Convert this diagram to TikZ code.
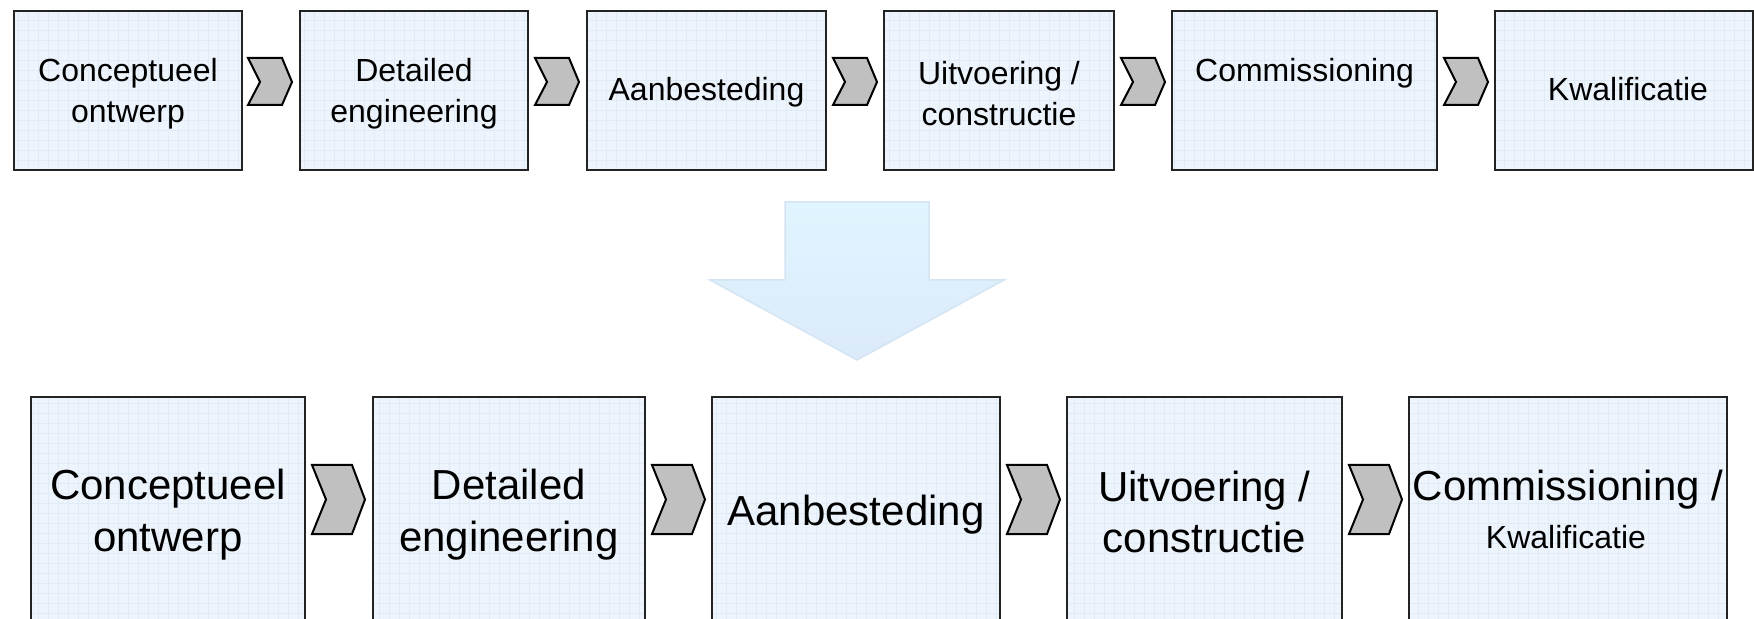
\documentclass[tikz,border=0pt]{standalone}
\usepackage{fontspec}
\setmainfont{Liberation Sans}
\usetikzlibrary{calc}
\definecolor{boxfill}{RGB}{238,244,251}
\definecolor{gridcol}{RGB}{224,235,248}
\definecolor{boxline}{RGB}{35,35,35}
\definecolor{chevfill}{RGB}{192,192,192}
\definecolor{arrtop}{RGB}{224,245,255}
\definecolor{arrbot}{RGB}{220,234,249}
\definecolor{arrline}{RGB}{212,228,242}
\begin{document}
\begin{tikzpicture}[x=0.5pt,y=-0.5pt,
  procbox/.style={draw=boxline, line width=1pt, fill=boxfill, inner sep=0pt,
    path picture={\draw[gridcol, line width=0.35pt] (path picture bounding box.north west) grid[step=5pt] (path picture bounding box.south east);}},
  toptext/.style={font=\fontsize{16}{20.5}\selectfont, align=center, inner sep=0pt},
  bottext/.style={font=\fontsize{21}{25.8}\selectfont, align=center, inner sep=0pt},
  smalltext/.style={font=\fontsize{16}{18.5}\selectfont, align=center, inner sep=0pt},
  chev/.style={draw=black, line width=1pt, fill=chevfill, line join=miter}]
\useasboundingbox (0,0) rectangle (1754,619);
\clip (0,0) rectangle (1754,619);
% top row boxes
\node[procbox, minimum width=114pt,   minimum height=79.5pt] (T1) at (128,90.5) {};
\node[procbox, minimum width=114pt,   minimum height=79.5pt] (T2) at (414,90.5) {};
\node[procbox, minimum width=119.5pt, minimum height=79.5pt] (T3) at (706.5,90.5) {};
\node[procbox, minimum width=115pt,   minimum height=79.5pt] (T4) at (999,90.5) {};
\node[procbox, minimum width=132.5pt, minimum height=79.5pt] (T5) at (1304.5,90.5) {};
\node[procbox, minimum width=129pt,   minimum height=79.5pt] (T6) at (1624,90.5) {};
% top row texts
\node[toptext] (t1) at (128,93.5) {Conceptueel\\ontwerp};
\node[toptext] (t2) at (414,93.5) {Detailed\\engineering};
\node[toptext] (t3) at (706.5,92) {Aanbesteding};
\node[toptext] (t4) at (999,93.5) {Uitvoering /\\constructie};
\node[toptext] (t5) at (1304.5,73) {Commissioning};
\node[toptext] (t6) at (1628,89) {Kwalificatie};
% top chevrons
\foreach \x in {248,535,833,1121,1444}
  \draw[chev] (\x,58) -- (\x+34,58) -- (\x+44,82) -- (\x+34,105) -- (\x,105) -- (\x+12,82) -- cycle;
% big arrow
\shade[top color=arrtop, bottom color=arrbot, draw=arrline, line width=0.75pt]
  (785,202) -- (929,202) -- (929,280) -- (1004,280) -- (857,360) -- (710,280) -- (785,280) -- cycle;
% bottom row boxes
\node[procbox, minimum width=137pt,   minimum height=116.5pt] (B1) at (168,513.5) {};
\node[procbox, minimum width=136pt,   minimum height=116.5pt] (B2) at (509,513.5) {};
\node[procbox, minimum width=144pt,   minimum height=116.5pt] (B3) at (856,513.5) {};
\node[procbox, minimum width=137.5pt, minimum height=116.5pt] (B4) at (1204.5,513.5) {};
\node[procbox, minimum width=159pt,   minimum height=116.5pt] (B5) at (1568,513.5) {};
% bottom texts
\node[bottext] (b1) at (168,514.5) {Conceptueel\\ontwerp};
\node[bottext] (b2) at (509,514.5) {Detailed\\engineering};
\node[bottext] (b3) at (856,515) {Aanbesteding};
\node[bottext] (b4) at (1204.5,512) {Uitvoering /\\constructie};
\node[bottext] (b5) at (1568,490) {Commissioning /};
\node[smalltext] (b6) at (1566,537) {Kwalificatie};
% bottom chevrons
\foreach \x in {312,652,1007,1349}
  \draw[chev] (\x,465) -- (\x+40,465) -- (\x+53,499.5) -- (\x+40,534) -- (\x,534) -- (\x+14,499.5) -- cycle;
\end{tikzpicture}
\end{document}
